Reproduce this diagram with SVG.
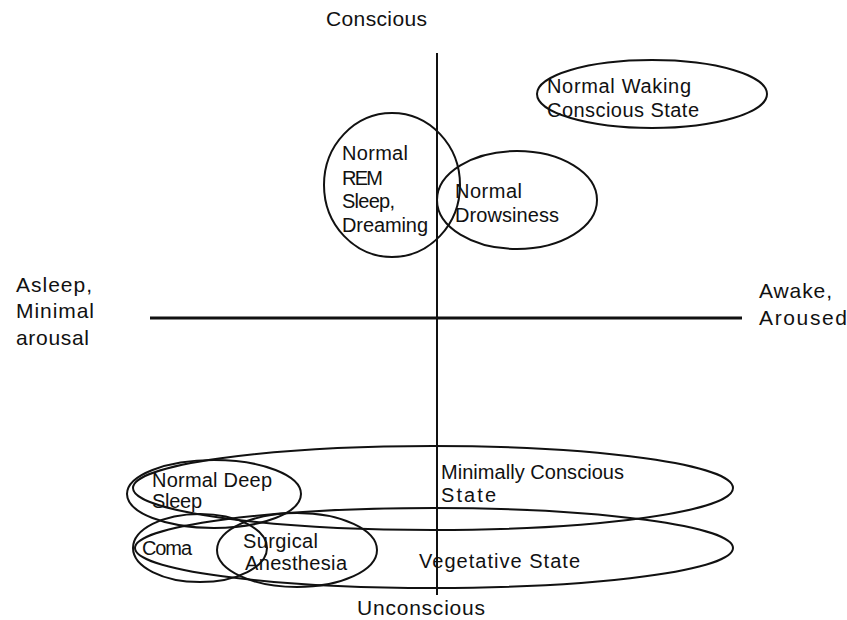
<svg xmlns="http://www.w3.org/2000/svg" width="847" height="620" viewBox="0 0 847 620">
<style>
text{font-family:"Comic Sans MS","Liberation Sans","DejaVu Sans",sans-serif;fill:#111;}
.n{font-size:20px;}
.ax{font-size:21px;}
.e{fill:none;stroke:#111;stroke-width:2;}
.axis{stroke:#111;fill:none;}
</style>
<rect width="847" height="620" fill="#fff"/>
<g id="axes">
<line class="axis" x1="437" y1="53" x2="437" y2="595" stroke-width="2"/>
<line class="axis" x1="150" y1="318" x2="742" y2="318" stroke-width="3"/>
<text class="ax" x="326" y="26" textLength="101" lengthAdjust="spacing">Conscious</text>
<text class="ax" x="357" y="615" textLength="128" lengthAdjust="spacing">Unconscious</text>
<text class="ax" x="16" y="292" textLength="76" lengthAdjust="spacing">Asleep,</text>
<text class="ax" x="16" y="318" textLength="78" lengthAdjust="spacing">Minimal</text>
<text class="ax" x="16" y="345" textLength="73" lengthAdjust="spacing">arousal</text>
<text class="ax" x="759" y="298" textLength="73" lengthAdjust="spacing">Awake,</text>
<text class="ax" x="759" y="325" textLength="88" lengthAdjust="spacing">Aroused</text>
</g>
<g id="waking">
<ellipse class="e" cx="652" cy="94" rx="115" ry="34"/>
<text class="n" x="547" y="93" textLength="144" lengthAdjust="spacing">Normal Waking</text>
<text class="n" x="547" y="117" textLength="152" lengthAdjust="spacing">Conscious State</text>
</g>
<g id="rem">
<ellipse class="e" cx="392" cy="185" rx="68" ry="72"/>
<text class="n" x="342" y="160" textLength="66" lengthAdjust="spacing">Normal</text>
<text class="n" x="342" y="185" textLength="41" lengthAdjust="spacing">REM</text>
<text class="n" x="342" y="208" textLength="53" lengthAdjust="spacing">Sleep,</text>
<text class="n" x="342" y="232" textLength="86" lengthAdjust="spacing">Dreaming</text>
</g>
<g id="drowsiness">
<ellipse class="e" cx="517" cy="200" rx="80" ry="49"/>
<text class="n" x="455" y="198" textLength="67" lengthAdjust="spacing">Normal</text>
<text class="n" x="455" y="222" textLength="104" lengthAdjust="spacing">Drowsiness</text>
</g>
<g id="mcs">
<ellipse class="e" cx="433" cy="488" rx="300" ry="42"/>
<text class="n" x="441" y="479" textLength="183" lengthAdjust="spacing">Minimally Conscious</text>
<text class="n" x="441" y="502" textLength="55" lengthAdjust="spacing">State</text>
</g>
<g id="vegetative">
<ellipse class="e" cx="434" cy="548" rx="299" ry="40"/>
<text class="n" x="419" y="568" textLength="161" lengthAdjust="spacing">Vegetative State</text>
</g>
<g id="deepsleep">
<ellipse class="e" cx="214" cy="494" rx="87" ry="34"/>
<text class="n" x="152" y="487" textLength="120" lengthAdjust="spacing">Normal Deep</text>
<text class="n" x="152" y="508" textLength="50" lengthAdjust="spacing">Sleep</text>
</g>
<g id="coma">
<ellipse class="e" cx="200" cy="548" rx="67" ry="34"/>
<text class="n" x="142" y="555" textLength="50" lengthAdjust="spacing">Coma</text>
</g>
<g id="anesthesia">
<ellipse class="e" cx="297" cy="550" rx="80" ry="37"/>
<text class="n" x="243" y="548" textLength="75" lengthAdjust="spacing">Surgical</text>
<text class="n" x="245" y="570" textLength="102" lengthAdjust="spacing">Anesthesia</text>
</g>
</svg>
